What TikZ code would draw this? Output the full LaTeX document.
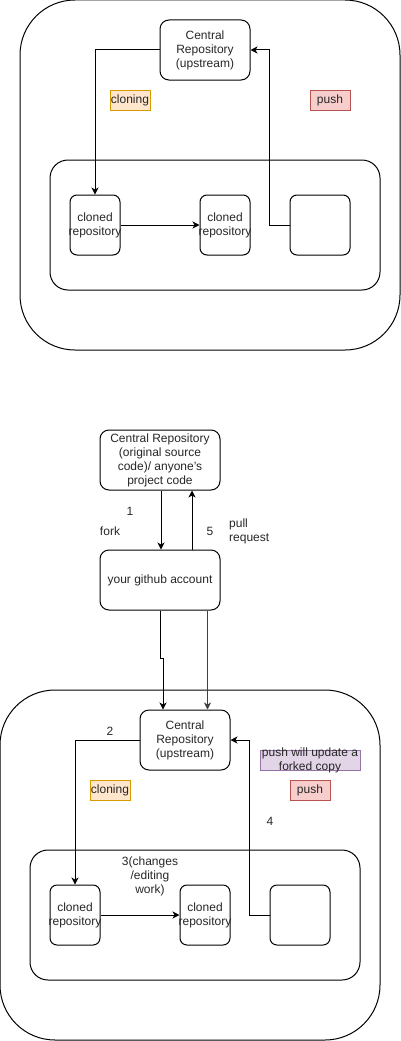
\documentclass[tikz,border=0pt]{standalone}
\usepackage{fontspec}
\setmainfont{Liberation Sans}
\usetikzlibrary{arrows.meta}
\definecolor{orfill}{HTML}{FFE6CC}
\definecolor{ordraw}{HTML}{D79B00}
\definecolor{rdfill}{HTML}{F8CECC}
\definecolor{rddraw}{HTML}{B85450}
\definecolor{pufill}{HTML}{E1D5E7}
\definecolor{pudraw}{HTML}{9673A6}
\newcommand{\fsz}{\fontsize{12}{14}\selectfont}
\tikzset{
  shape box/.style={draw, rectangle, line width=1pt, inner sep=0pt},
  rbox/.style={shape box, rounded corners=#1},
  rbox/.default=8pt,
  txt/.style={font=\fsz, align=center, inner sep=0pt, text=black!85},
  tag/.style={draw=#1draw, fill=#1fill, rectangle, line width=1pt, inner sep=0pt},
  arr/.style={-{Stealth[length=7pt,width=7pt,inset=2pt]}, line width=1pt},
  conn/.style={line width=1pt},
}
\begin{document}
\begin{tikzpicture}[x=1pt,y=-1pt]
\useasboundingbox (0,0) rectangle (401,1041);
% ---------- top section ----------
\node[rbox=55pt, minimum width=380pt, minimum height=350pt] (out1) at (210,175) {};
\node[rbox=18pt, minimum width=330pt, minimum height=130pt] (in1) at (215,225) {};
\node[rbox=9pt, minimum width=90pt, minimum height=60pt] (cr1) at (205,50) {};
\node[txt] (cr1t) at (cr1) {Central\\Repository\\(upstream)};
\node[tag=or, minimum width=40pt, minimum height=20pt] (clo1) at (130,100) {};
\node[txt] at (clo1) {cloning};
\node[tag=rd, minimum width=40pt, minimum height=20pt] (pu1) at (330,100) {};
\node[txt] at (pu1) {push};
\node[rbox=7pt, minimum width=50pt, minimum height=60pt] (cl1) at (95,225) {};
\node[txt] at (cl1) {cloned\\repository};
\node[rbox=7pt, minimum width=50pt, minimum height=60pt] (cl2) at (225,225) {};
\node[txt] at (cl2) {cloned\\repository};
\node[rbox=7pt, minimum width=60pt, minimum height=60pt] (emp1) at (320,225) {};
\draw[arr] (cr1.west) -| (cl1.north);
\draw[arr] (cl1.east) -- (cl2.west);
\draw[arr] (emp1.west) -- ++(-20,0) |- (cr1.east);
% ---------- middle section ----------
\node[rbox=9pt, minimum width=120pt, minimum height=60pt] (orig) at (160,460) {};
\node[txt] at (orig) {Central Repository\\(original source\\code)/ anyone's\\project code};
\node[rbox=9pt, minimum width=120pt, minimum height=60pt] (gh) at (160,580) {};
\node[txt] at (gh) {your github account};
\draw[arr] ([xshift=1pt]orig.south) -- ([xshift=1pt]gh.north);
\draw[arr] ([xshift=32pt]gh.north) -- ([xshift=32pt]orig.south);
\node[txt] (n1) at (130,511) {1};
\node[txt] (nfork) at (110,531) {fork};
\node[txt] (n5) at (210,531) {5};
\node[txt, align=left, anchor=west] (npr) at (229,531) {pull\\request};
% ---------- lower section ----------
\node[rbox=55pt, minimum width=380pt, minimum height=350pt] (out2) at (190,865) {};
\node[rbox=18pt, minimum width=330pt, minimum height=130pt] (in2) at (195,915) {};
\node[rbox=9pt, minimum width=90pt, minimum height=60pt] (cr2) at (185,740) {};
\node[txt] at (cr2) {Central\\Repository\\(upstream)};
\draw[arr] (gh.south) -- ([yshift=-48pt]gh.south) -| ([xshift=-22pt]cr2.north);
\draw[arr,draw=black!75] ([xshift=47.5pt]gh.south) -- ([xshift=22.5pt]cr2.north);
\node[tag=or, minimum width=40pt, minimum height=20pt] (clo2) at (110,790) {};
\node[txt] at (clo2) {cloning};
\node[tag=pu, minimum width=100pt, minimum height=20pt] (upd) at (310,760) {};
\node[txt] at (upd) {push will update a\\forked copy};
\node[tag=rd, minimum width=40pt, minimum height=20pt] (pu2) at (310,790) {};
\node[txt] at (pu2) {push};
\node[rbox=7pt, minimum width=50pt, minimum height=60pt] (cl3) at (75,915) {};
\node[txt] at (cl3) {cloned\\repository};
\node[rbox=7pt, minimum width=50pt, minimum height=60pt] (cl4) at (205,915) {};
\node[txt] at (cl4) {cloned\\repository};
\node[rbox=7pt, minimum width=60pt, minimum height=60pt] (emp2) at (300,915) {};
\draw[arr] (cr2.west) -| (cl3.north);
\draw[arr] (cl3.east) -- (cl4.west);
\draw[arr] (emp2.west) -- ++(-20,0) |- (cr2.east);
\node[txt] (n2) at (110,731) {2};
\node[txt] (n4) at (270,821) {4};
\node[txt] (n3) at (150,876) {3(changes\\/editing\\work)};
\end{tikzpicture}
\end{document}
